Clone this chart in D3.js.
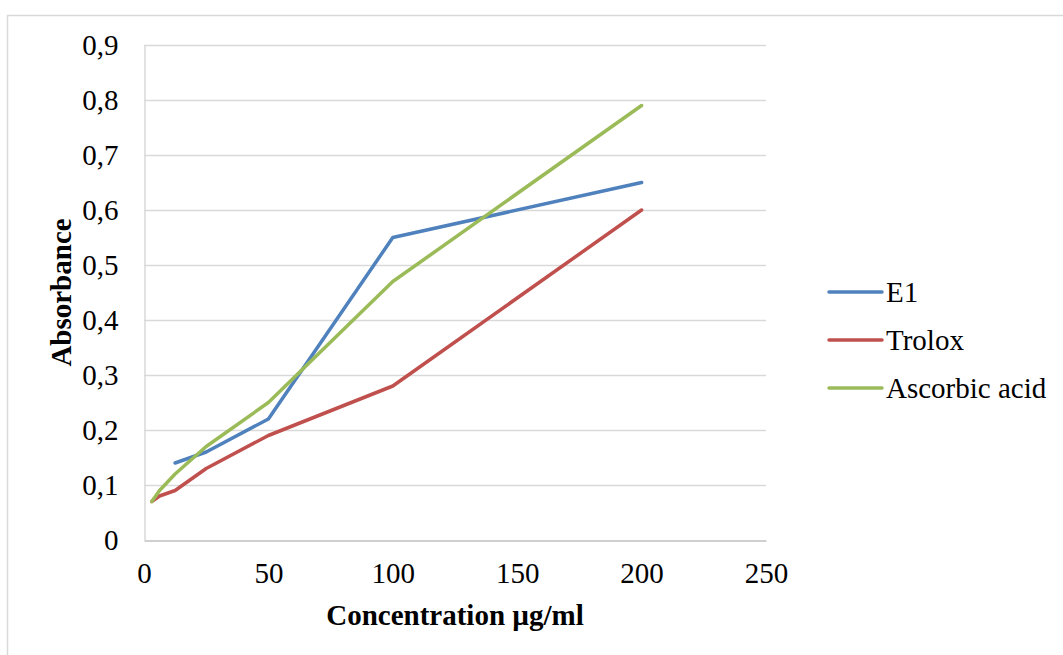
<!DOCTYPE html>
<html>
  <head>
    <meta charset="utf-8" />
    <script src="https://d3js.org/d3.v7.min.js"></script>
    <style>
      body { margin: 0; background: #fff; }
      text { font-family: "Liberation Serif", "Times New Roman", serif; fill: #000; }
    </style>
  </head>
  <body>
    <div id="figure"></div>
    <script type="text/javascript">
      // chart data
      var concentrations = [3.125, 6.25, 12.5, 25, 50, 100, 200];
      var seriesNames = ["E1", "Trolox", "Ascorbic acid"];
      var e1Values = [null, null, 0.14, 0.16, 0.22, 0.55, 0.65];
      var troloxValues = [0.07, 0.08, 0.09, 0.13, 0.19, 0.28, 0.6];
      var ascorbicValues = [0.07, 0.09, 0.12, 0.17, 0.25, 0.47, 0.79];
      var seriesColors = ["#4f81bd", "#c0504d", "#9bbb59"];
      var xTicks = [0, 50, 100, 150, 200, 250];
      var yTicks = [0, 0.1, 0.2, 0.3, 0.4, 0.5, 0.6, 0.7, 0.8, 0.9];

      var width = 1063;
      var height = 655;
      var margin = { left: 144, top: 45, right: 297, bottom: 115 };
      var fontSize = "29px";

      var svg = d3
        .select("#figure")
        .append("svg")
        .attr("width", width)
        .attr("height", height);

      // outer chart border (cropped on right and bottom)
      svg
        .append("rect")
        .attr("x", 7.5)
        .attr("y", 15.5)
        .attr("width", width + 20)
        .attr("height", height + 20)
        .attr("fill", "none")
        .attr("stroke", "#d9d9d9")
        .attr("stroke-width", 1.5);

      var x = d3
        .scaleLinear()
        .domain([0, 250])
        .range([margin.left, width - margin.right]);
      var y = d3
        .scaleLinear()
        .domain([0, 0.9])
        .range([height - margin.bottom, margin.top]);

      // gridlines
      svg
        .append("g")
        .selectAll("line")
        .data(yTicks.slice(1))
        .enter()
        .append("line")
        .attr("x1", x(0))
        .attr("x2", x(250))
        .attr("y1", function (d) { return Math.round(y(d)) + 0.5; })
        .attr("y2", function (d) { return Math.round(y(d)) + 0.5; })
        .attr("stroke", "#d9d9d9")
        .attr("stroke-width", 1.5);

      // axes
      var xAxis = svg
        .append("g")
        .attr("transform", "translate(0," + (Math.round(y(0)) + 0.5) + ")")
        .call(d3.axisBottom(x).tickValues(xTicks).tickSize(0).tickPadding(22));
      xAxis.select(".domain").attr("stroke", "#bfbfbf").attr("stroke-width", 1.5);
      xAxis.selectAll("text").style("font-size", fontSize);

      var yAxis = svg
        .append("g")
        .attr("transform", "translate(" + (Math.round(x(0)) + 0.5) + ",0)")
        .call(
          d3
            .axisLeft(y)
            .tickValues(yTicks)
            .tickSize(0)
            .tickPadding(26)
            .tickFormat(function (d) { return d === 0 ? "0" : d3.format(".1f")(d).replace(".", ","); })
        );
      yAxis.select(".domain").attr("stroke", "#d9d9d9").attr("stroke-width", 1.5);
      yAxis.selectAll("text").style("font-size", fontSize);

      // axis titles
      svg
        .append("text")
        .attr("x", (x(0) + x(250)) / 2)
        .attr("y", 625)
        .attr("text-anchor", "middle")
        .style("font-size", fontSize)
        .style("font-weight", "bold")
        .text("Concentration µg/ml");

      svg
        .append("text")
        .attr("transform", "translate(71," + (y(0) + y(0.9)) / 2 + ") rotate(-90)")
        .attr("text-anchor", "middle")
        .style("font-size", fontSize)
        .style("font-weight", "bold")
        .text("Absorbance");

      // series lines
      var allValues = [e1Values, troloxValues, ascorbicValues];
      var line = d3
        .line()
        .x(function (d) { return x(d.c); })
        .y(function (d) { return y(d.v); });

      seriesNames.forEach(function (name, i) {
        var pts = concentrations.map(function (c, j) {
          return { c: c, v: allValues[i][j] };
        });
        svg
          .append("path")
          .datum(pts.filter(function (d) { return d.v !== null; }))
          .attr("d", line)
          .attr("fill", "none")
          .attr("stroke", seriesColors[i])
          .attr("stroke-width", 3.5)
          .attr("stroke-linejoin", "round")
          .attr("stroke-linecap", "round");
      });

      // legend
      var legend = svg.append("g").attr("transform", "translate(829,292)");
      seriesNames.forEach(function (name, i) {
        var g = legend.append("g").attr("transform", "translate(0," + i * 48 + ")");
        g.append("line")
          .attr("x1", 0)
          .attr("x2", 53)
          .attr("stroke", seriesColors[i])
          .attr("stroke-width", 3.5)
          .attr("stroke-linecap", "round");
        g.append("text")
          .attr("x", 57)
          .attr("dy", "0.33em")
          .style("font-size", fontSize)
          .text(name);
      });
    </script>
  </body>
</html>
